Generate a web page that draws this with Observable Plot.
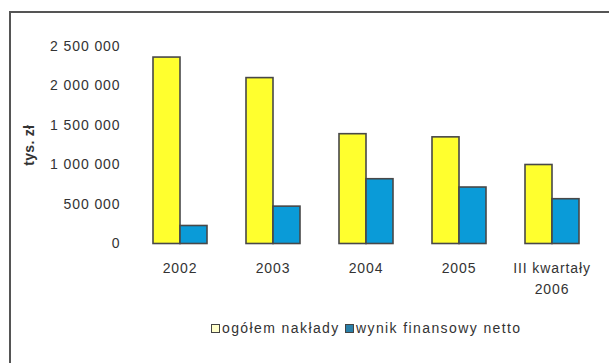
<!DOCTYPE html>
<html>
<head>
<meta charset="utf-8">
<script src="https://cdn.jsdelivr.net/npm/d3@7"></script>
<script src="https://cdn.jsdelivr.net/npm/@observablehq/plot@0.6"></script>
<style>
  html, body { margin: 0; padding: 0; background: #fff; }
  #wrap { position: relative; width: 609px; height: 363px; overflow: hidden; font-family: "Liberation Sans", Arial, sans-serif; }
  #frame { position: absolute; left: 9px; top: 11px; width: 620px; height: 400px; border-left: 2px solid #555; border-top: 2px solid #555; box-sizing: border-box; pointer-events: none; }
  #chart { position: absolute; left: 0; top: 0; }
  #chart svg text { letter-spacing: 0.9px; }
  #chart [aria-label="y-axis label"] text, #chart [aria-label="y-axis label"] { font-weight: bold; letter-spacing: 0.3px; }
  #legend { position: absolute; left: 211px; top: 320px; font-size: 14px; line-height: 16px; letter-spacing: 1.4px; color: #333; white-space: nowrap; }
  .sw { display: inline-block; width: 7px; height: 7px; border: 1.5px solid #444; vertical-align: 0px; margin-right: 2px; }
  .item2 { margin-left: 0px; }
</style>
</head>
<body>
<div id="wrap">
  <div id="chart"></div>
  <div id="frame"></div>
  <div id="legend"></div>
</div>
<script>
const years = ["2002", "2003", "2004", "2005", "III kwartały\n2006"];
const seriesNames = ["ogółem nakłady", "wynik finansowy netto"];
const naklady = [2360000, 2100000, 1390000, 1350000, 1000000];
const wynik = [228000, 473000, 820000, 715000, 567000];
const yTicks = [0, 500000, 1000000, 1500000, 2000000, 2500000];
const yLabel = "tys. zł";
const colors = ["#ffff2e", "#0a9bd8"];

const data = [];
years.forEach((y, i) => {
  data.push({year: y, series: seriesNames[0], value: naklady[i]});
  data.push({year: y, series: seriesNames[1], value: wynik[i]});
});

const fmt = v => d3.format(",")(v).replace(/,/g, " ");

const chart = Plot.plot({
  width: 609,
  height: 300,
  marginLeft: 132,
  marginRight: 11,
  marginTop: 46,
  marginBottom: 56.5,
  style: {fontFamily: "'Liberation Sans', Arial, sans-serif", fontSize: "14px", color: "#333", background: "transparent"},
  fx: {domain: years, paddingInner: 0.41, paddingOuter: 0.205},
  x: {domain: seriesNames, axis: null, padding: 0},
  y: {domain: [0, 2500000]},
  color: {domain: seriesNames, range: colors},
  marks: [
    Plot.axisY({ticks: yTicks, tickFormat: fmt, tickSize: 0, tickPadding: 32, label: null, fontSize: 14}),
    Plot.axisY({ticks: [], tickSize: 0, label: yLabel, labelAnchor: "center", labelArrow: "none", labelOffset: 128, fontSize: 14, fontWeight: "bold"}),
    Plot.axisFx({anchor: "bottom", tickSize: 0, tickPadding: 15, lineHeight: 1.45, label: null, fontSize: 14}),
    Plot.barY(data, {fx: "year", x: "series", y: "value", fill: "series", stroke: "#484848", strokeWidth: 1.6})
  ]
});
document.getElementById("chart").appendChild(chart);

const legend = document.getElementById("legend");
legend.innerHTML = seriesNames.map((s, i) =>
  `<span class="item${i + 1}"><span class="sw" style="background:${i === 0 ? '#ffffcc' : '#2a7fa8'}"></span>${s}</span>`
).join(" ");
</script>
</body>
</html>
